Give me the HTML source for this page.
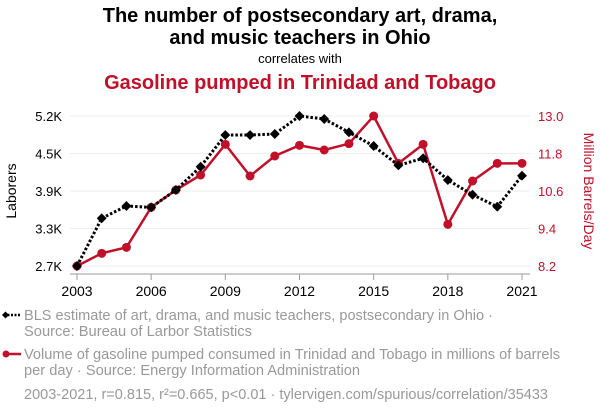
<!DOCTYPE html>
<html><head><meta charset="utf-8"><style>
body{margin:0;width:600px;height:414px;background:#fff;font-family:"Liberation Sans",sans-serif;overflow:hidden}
svg text{font-family:"Liberation Sans",sans-serif}
</style></head><body>
<svg id="c" width="600" height="414">
<text x="300" y="22" text-anchor="middle" font-size="20" font-weight="bold" fill="#000">The number of postsecondary art, drama,</text>
<text x="300" y="44" text-anchor="middle" font-size="20" font-weight="bold" fill="#000">and music teachers in Ohio</text>
<text x="300" y="63" text-anchor="middle" font-size="13" fill="#000">correlates with</text>
<text x="300" y="89" text-anchor="middle" font-size="20" font-weight="bold" fill="#c0102a">Gasoline pumped in Trinidad and Tobago</text>
<text transform="translate(16,191) rotate(-90)" text-anchor="middle" font-size="14" fill="#000">Laborers</text>
<text transform="translate(584,191) rotate(90)" text-anchor="middle" font-size="14" fill="#c0102a">Million Barrels/Day</text>
<g id="grid"></g><g id="axes"></g><g id="series"></g>
<g>
<line x1="4" y1="315" x2="21" y2="315" stroke="#000" stroke-width="2.5" stroke-dasharray="2,1.5"/>
<rect x="3" y="312.5" width="5" height="5" transform="rotate(45 5.5 315)" fill="#000"/>
<text x="24" y="320" font-size="15" fill="#999" textLength="469" lengthAdjust="spacingAndGlyphs">BLS estimate of art, drama, and music teachers, postsecondary in Ohio ·</text>
<text x="24" y="336" font-size="15" fill="#999" textLength="228" lengthAdjust="spacingAndGlyphs">Source: Bureau of Larbor Statistics</text>
</g>
<g>
<line x1="4" y1="354" x2="21" y2="354" stroke="#c0102a" stroke-width="2.5"/>
<circle cx="6" cy="354" r="3.5" fill="#c0102a"/>
<text x="24" y="359" font-size="15" fill="#999" textLength="536" lengthAdjust="spacingAndGlyphs">Volume of gasoline pumped consumed in Trinidad and Tobago in millions of barrels</text>
<text x="24" y="375" font-size="15" fill="#999" textLength="336" lengthAdjust="spacingAndGlyphs">per day · Source: Energy Information Administration</text>
</g>
<text x="24" y="399" font-size="15" fill="#999" textLength="524" lengthAdjust="spacingAndGlyphs">2003-2021, r=0.815, r²=0.665, p&lt;0.01 · tylervigen.com/spurious/correlation/35433</text>
</svg>
<script>
const years=[2003,2004,2005,2006,2007,2008,2009,2010,2011,2012,2013,2014,2015,2016,2017,2018,2019,2020,2021];
const teachers=[2.7,3.495,3.7,3.678,3.967,4.355,4.883,4.883,4.9,5.2,5.15,4.928,4.7,4.378,4.495,4.133,3.888,3.688,4.205];
const gasoline=[8.2,8.606,8.797,10.077,10.632,11.112,12.093,11.08,11.72,12.061,11.912,12.115,13.0,11.485,12.093,9.533,10.92,11.485,11.485];
const leftTicks=[2.7,3.325,3.95,4.575,5.2];
const leftTickLabels=["2.7K","3.3K","3.9K","4.5K","5.2K"];
const rightTicks=[8.2,9.4,10.6,11.8,13.0];
const rightTickLabels=["8.2","9.4","10.6","11.8","13.0"];
const xTicks=[2003,2006,2009,2012,2015,2018,2021];
const NS="http://www.w3.org/2000/svg";
const X=y=>77+(y-2003)*(522-77)/18;
const YL=v=>266-(v-2.7)/(5.2-2.7)*150;
const YR=v=>266-(v-8.2)/(13.0-8.2)*150;
function mk(t,a,p){const e=document.createElementNS(NS,t);for(const k in a)e.setAttribute(k,a[k]);p.appendChild(e);return e;}
const grid=document.getElementById('grid'),axes=document.getElementById('axes'),ser=document.getElementById('series');
leftTicks.forEach((v,i)=>{
 const g=mk('line',{x1:70,x2:530,y1:YL(v),y2:YL(v),stroke:'#eee','stroke-width':1},grid);
 
 
 const t=mk('text',{x:62,y:YL(v)+5,'text-anchor':'end','font-size':13,fill:'#000'},axes);t.textContent=leftTickLabels[i];
 
 
});
rightTicks.forEach((v,i)=>{
 const t=mk('text',{x:538,y:YR(v)+5,'font-size':13,fill:'#c0102a'},axes);t.textContent=rightTickLabels[i];
 
 
});
const ax=mk('line',{x1:70,x2:530,y1:274,y2:274,stroke:'#999','stroke-width':1},axes);


xTicks.forEach(y=>{
 mk('line',{x1:X(y),x2:X(y),y1:274,y2:280,stroke:'#999'},axes);
 const t=mk('text',{x:X(y),y:296,'text-anchor':'middle','font-size':14,fill:'#000'},axes);t.textContent=y;
 
 
});
const rl=mk('polyline',{points:years.map((y,i)=>X(y)+','+YR(gasoline[i])).join(' '),fill:'none',stroke:'#c0102a','stroke-width':2.5},ser);


years.forEach((y,i)=>{const c=mk('circle',{cx:X(y),cy:YR(gasoline[i]),r:4.5,fill:'#c0102a'},ser);
 
 });
const bl=mk('polyline',{points:years.map((y,i)=>X(y)+','+YL(teachers[i])).join(' '),fill:'none',stroke:'#000','stroke-width':3,'stroke-dasharray':'2.5,2'},ser);


years.forEach((y,i)=>{const cx=X(y),cy=YL(teachers[i]);
 const r=mk('rect',{x:cx-3.5,y:cy-3.5,width:7,height:7,fill:'#000',transform:`rotate(45 ${cx} ${cy})`},ser);
 
 });
</script>
</body></html>
